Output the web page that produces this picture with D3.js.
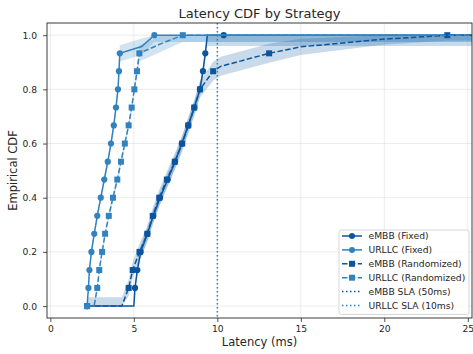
<!DOCTYPE html>
<html><head><meta charset="utf-8">
<script src="https://cdn.jsdelivr.net/npm/d3@7"></script>
<style>
html,body{margin:0;padding:0;background:#fff;}
svg{display:block;font-family:"DejaVu Sans",sans-serif;}
</style></head>
<body><div id="chart"></div>
<script>
// ---- data ----
const title = "Latency CDF by Strategy";
const xLabel = "Latency (ms)";
const yLabel = "Empirical CDF";
const xTicks = [0, 5, 10, 15, 20, 25];
const yTicks = [0, 0.2, 0.4, 0.6, 0.8, 1.0];

const embbFixedX = [2.2, 5.0, 5.07, 5.21, 5.41, 5.81, 6.17, 6.57, 7.03, 7.47, 7.87, 8.26, 8.62, 8.96, 9.14, 9.28, 9.40, 10.38, 26];
const embbFixedY = [0, 0, .067, .133, .2, .267, .333, .4, .467, .533, .6, .667, .733, .8, .867, .933, 1, 1, 1];
const embbFixedCI = [0, 0, .01, .02, .025, .025, .025, .025, .025, .025, .025, .025, .025, .025, .02, .02, .04, .04, .04];
const embbFixedMark = [1, 0, 1, 1, 1, 1, 1, 1, 1, 1, 1, 1, 1, 1, 1, 1, 0, 1, 0];

const urllcFixedX = [2.2, 2.28, 2.34, 2.46, 2.63, 2.81, 3.02, 3.23, 3.44, 3.63, 3.80, 3.93, 4.05, 4.11, 4.16, 5.47, 6.23, 26];
const urllcFixedY = [0, .067, .133, .2, .267, .333, .4, .467, .533, .6, .667, .733, .8, .867, .933, .958, 1, 1];
const urllcFixedCI = [0, .01, .015, .015, .015, .015, .015, .015, .015, .015, .015, .015, .015, .02, .03, .03, .025, .025];
const urllcFixedMark = [1, 1, 1, 1, 1, 1, 1, 1, 1, 1, 1, 1, 1, 1, 1, 0, 1, 0];

const embbRandX = [2.2, 4.28, 4.69, 4.93, 5.34, 5.81, 6.13, 6.52, 6.98, 7.45, 7.90, 8.26, 8.62, 8.96, 9.75, 10.2, 13.1, 15.0, 19.9, 23.77, 26];
const embbRandY = [0, 0, .067, .133, .2, .267, .333, .4, .467, .533, .6, .667, .733, .8, .867, .885, .933, .957, .985, 1, 1];
const embbRandCI = [.033, .033, .03, .03, .03, .03, .03, .03, .03, .03, .03, .03, .03, .03, .035, .035, .035, .03, .02, .02, .02];
const embbRandMark = [1, 0, 1, 1, 1, 1, 1, 1, 1, 1, 1, 1, 1, 1, 1, 0, 1, 0, 0, 1, 0];

const urllcRandX = [2.2, 2.62, 2.81, 2.93, 3.10, 3.28, 3.50, 3.75, 4.01, 4.23, 4.46, 4.69, 4.87, 5.03, 5.19, 5.33, 6.6, 7.93, 26];
const urllcRandY = [0, 0, .067, .133, .2, .267, .333, .4, .467, .533, .6, .667, .733, .8, .867, .933, .968, 1, 1];
const urllcRandCI = [0, 0, .015, .015, .015, .015, .015, .015, .015, .015, .015, .015, .015, .015, .02, .03, .03, .025, .025];
const urllcRandMark = [1, 0, 1, 1, 1, 1, 1, 1, 1, 1, 1, 1, 1, 1, 1, 1, 0, 1, 0];

const slaNames = ["eMBB SLA (50ms)", "URLLC SLA (10ms)"];
const slaValues = [50, 10];

// ---- styles ----
const cEmbb = "#0b559f", cUrllc = "#3182bd";
const series = [
  {name: "eMBB (Fixed)", x: embbFixedX, y: embbFixedY, ci: embbFixedCI, mk: embbFixedMark, color: cEmbb, shape: "circle", dash: null},
  {name: "URLLC (Fixed)", x: urllcFixedX, y: urllcFixedY, ci: urllcFixedCI, mk: urllcFixedMark, color: cUrllc, shape: "circle", dash: null},
  {name: "eMBB (Randomized)", x: embbRandX, y: embbRandY, ci: embbRandCI, mk: embbRandMark, color: cEmbb, shape: "square", dash: "5.5,2.4"},
  {name: "URLLC (Randomized)", x: urllcRandX, y: urllcRandY, ci: urllcRandCI, mk: urllcRandMark, color: cUrllc, shape: "square", dash: "5.5,2.4"}
];
const slaColors = [cEmbb, cUrllc];

const W = 473, H = 354;
const L = 47, R = 472, T = 23, B = 318;
const x = d3.scaleLinear().domain([-0.2, 25.25]).range([L, R]);
const y = d3.scaleLinear().domain([-0.044, 1.045]).range([B, T]);

const svg = d3.select("#chart").append("svg").attr("width", W).attr("height", H);
svg.append("defs").append("clipPath").attr("id", "clip")
  .append("rect").attr("x", L).attr("y", T).attr("width", R - L).attr("height", B - T);

// grid
const grid = svg.append("g");
grid.selectAll(".gx").data(xTicks).enter().append("line")
  .attr("x1", d => x(d)).attr("x2", d => x(d)).attr("y1", T).attr("y2", B)
  .attr("stroke", "#b0b0b0").attr("stroke-opacity", 0.3).attr("stroke-width", 0.8);
grid.selectAll(".gy").data(yTicks).enter().append("line")
  .attr("y1", d => y(d)).attr("y2", d => y(d)).attr("x1", L).attr("x2", R)
  .attr("stroke", "#b0b0b0").attr("stroke-opacity", 0.3).attr("stroke-width", 0.8);

const plot = svg.append("g").attr("clip-path", "url(#clip)");

// bands
const area = d3.area()
  .x(d => x(d.x))
  .y0(d => y(Math.max(0, d.y - d.c)))
  .y1(d => y(Math.min(1, d.y + d.c)));
series.forEach(s => {
  const pts = s.x.map((v, i) => ({x: v, y: s.y[i], c: s.ci[i]}));
  plot.append("path").datum(pts).attr("d", area)
    .attr("fill", s.color).attr("fill-opacity", 0.22).attr("stroke", "none");
});

// lines and markers
const line = d3.line().x(d => x(d.x)).y(d => y(d.y));
series.forEach(s => {
  const pts = s.x.map((v, i) => ({x: v, y: s.y[i], m: s.mk[i]}));
  plot.append("path").datum(pts).attr("d", line)
    .attr("fill", "none").attr("stroke", s.color).attr("stroke-width", 1.5)
    .attr("stroke-dasharray", s.dash);
  const mp = pts.filter(p => p.m);
  if (s.shape === "circle") {
    plot.selectAll(null).data(mp).enter().append("circle")
      .attr("cx", d => x(d.x)).attr("cy", d => y(d.y)).attr("r", 3.1)
      .attr("fill", s.color);
  } else {
    plot.selectAll(null).data(mp).enter().append("rect")
      .attr("x", d => x(d.x) - 3).attr("y", d => y(d.y) - 3)
      .attr("width", 6).attr("height", 6).attr("fill", s.color);
  }
});

// SLA lines
slaValues.forEach((v, i) => {
  plot.append("line").attr("x1", x(v)).attr("x2", x(v)).attr("y1", T).attr("y2", B)
    .attr("stroke", slaColors[i]).attr("stroke-width", 1.5).attr("stroke-dasharray", "1.5,2.5");
});

// frame
svg.append("rect").attr("x", L).attr("y", T).attr("width", R - L).attr("height", B - T)
  .attr("fill", "none").attr("stroke", "#262626").attr("stroke-width", 0.9);

// axes
const xAxis = svg.append("g").attr("transform", `translate(0,${B})`)
  .call(d3.axisBottom(x).tickValues(xTicks).tickFormat(d3.format("d")).tickSizeOuter(0).tickSize(4).tickPadding(3));
const yAxis = svg.append("g").attr("transform", `translate(${L},0)`)
  .call(d3.axisLeft(y).tickValues(yTicks).tickFormat(d3.format(".1f")).tickSizeOuter(0).tickSize(4).tickPadding(6));
[xAxis, yAxis].forEach(a => {
  a.select(".domain").remove();
  a.selectAll("line").attr("stroke", "#262626").attr("stroke-width", 0.8);
  a.selectAll("text").attr("font-family", "DejaVu Sans").attr("font-size", 9.2).attr("fill", "#262626");
});

svg.append("text").attr("x", (L + R) / 2).attr("y", 18).attr("text-anchor", "middle")
  .attr("font-size", 13).attr("fill", "#262626").text(title);
svg.append("text").attr("x", (L + R) / 2).attr("y", 346).attr("text-anchor", "middle")
  .attr("font-size", 11.5).attr("fill", "#262626").text(xLabel);
svg.append("text").attr("transform", `translate(17,${(T + B) / 2}) rotate(-90)`).attr("text-anchor", "middle")
  .attr("font-size", 11.5).attr("fill", "#262626").text(yLabel);

// legend
const legendItems = series.map(s => ({name: s.name, color: s.color, shape: s.shape, dash: s.dash}))
  .concat(slaNames.map((n, i) => ({name: n, color: slaColors[i], shape: null, dash: "1.5,2.5"})));
const lg = svg.append("g");
const lx = 339, ly = 230, lw = 130, lh = 84.5;
lg.append("rect").attr("x", lx).attr("y", ly).attr("width", lw).attr("height", lh).attr("rx", 2.5)
  .attr("fill", "#fff").attr("fill-opacity", 0.8).attr("stroke", "#cccccc").attr("stroke-width", 0.8);
legendItems.forEach((it, i) => {
  const cy = ly + 6 + 13.9 * i;
  lg.append("line").attr("x1", lx + 3).attr("x2", lx + 23).attr("y1", cy).attr("y2", cy)
    .attr("stroke", it.color).attr("stroke-width", 1.5).attr("stroke-dasharray", it.dash);
  if (it.shape === "circle") lg.append("circle").attr("cx", lx + 13).attr("cy", cy).attr("r", 3).attr("fill", it.color);
  if (it.shape === "square") lg.append("rect").attr("x", lx + 10).attr("y", cy - 3).attr("width", 6).attr("height", 6).attr("fill", it.color);
  lg.append("text").attr("x", lx + 29.5).attr("y", cy + 3.4).attr("font-size", 9.2).attr("fill", "#262626").text(it.name);
});
</script></body></html>
